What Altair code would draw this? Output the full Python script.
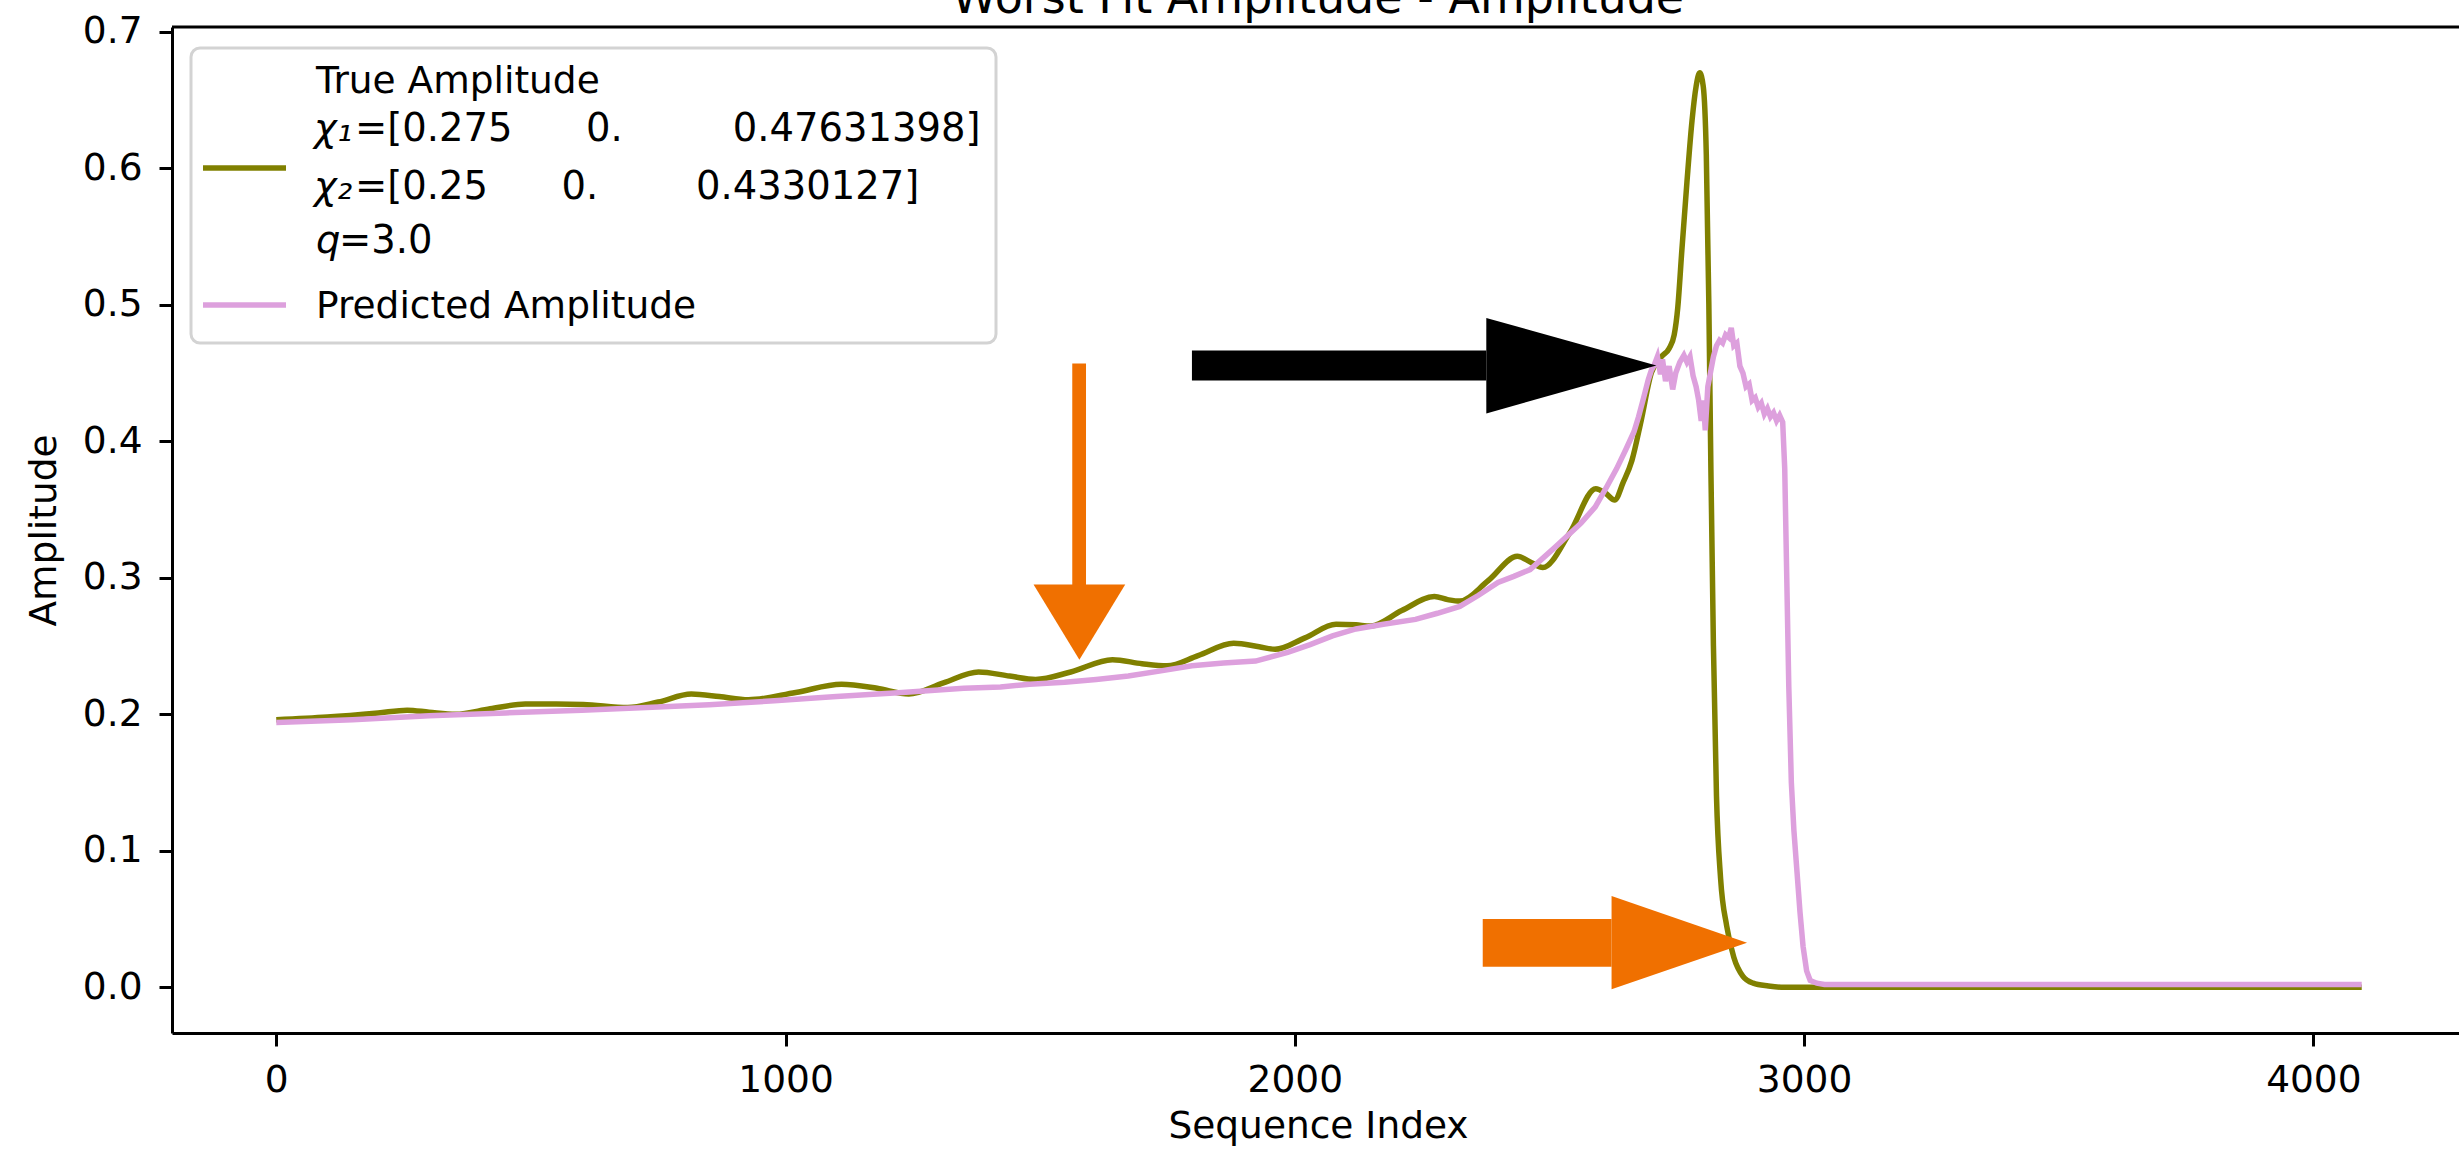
import altair as alt
import pandas as pd

# ---------------- data ----------------
true_idx = [0, 100, 200, 257, 300, 352, 420, 489, 550, 603, 690, 750, 815, 870, 927,
            1020, 1110, 1180, 1242, 1310, 1379, 1440, 1491, 1560, 1642, 1700, 1749,
            1810, 1880, 1930, 1961, 2020, 2081, 2120, 2149, 2210, 2274, 2300, 2324,
            2380, 2437, 2465, 2487, 2540, 2591, 2610, 2628, 2645, 2662, 2680, 2700,
            2720, 2735, 2745, 2752, 2760, 2770, 2780, 2788, 2795, 2802, 2808, 2813,
            2817, 2822, 2828, 2836, 2848, 2862, 2880, 2900, 2930, 2960, 4095]
true_amp = [0.196, 0.198, 0.201, 0.203, 0.2015, 0.200, 0.204, 0.2075, 0.2075, 0.2072,
            0.205, 0.209, 0.2148, 0.213, 0.2106, 0.216, 0.222, 0.219, 0.2148, 0.223,
            0.231, 0.228, 0.2255, 0.231, 0.240, 0.237, 0.2355, 0.243, 0.252, 0.2495,
            0.2476, 0.256, 0.2659, 0.2655, 0.2647, 0.276, 0.2862, 0.284, 0.2829, 0.298,
            0.3158, 0.311, 0.3075, 0.333, 0.3652, 0.362, 0.357, 0.370, 0.386, 0.415,
            0.450, 0.462, 0.468, 0.478, 0.498, 0.540, 0.590, 0.635, 0.660, 0.670,
            0.660, 0.610, 0.500, 0.380, 0.250, 0.140, 0.080, 0.045, 0.022, 0.008,
            0.003, 0.001, 0.0, 0.0]

pred_idx = [0, 150, 300, 450, 600, 727, 850, 978, 1100, 1229, 1350, 1422, 1479, 1548,
            1610, 1673, 1740, 1798, 1860, 1923, 1986, 2030, 2074, 2120, 2174, 2237,
            2280, 2324, 2360, 2399, 2430, 2462, 2513, 2562, 2590, 2613, 2632, 2650,
            2666, 2675, 2685, 2694, 2700, 2706, 2712, 2718, 2722, 2728, 2735, 2742,
            2748, 2756, 2764, 2770, 2776, 2782, 2788, 2793, 2798, 2802, 2806, 2811,
            2816, 2822, 2828, 2834, 2840, 2846, 2852, 2857, 2862, 2868, 2874, 2880,
            2886, 2892, 2898, 2904, 2910, 2916, 2922, 2928, 2934, 2940, 2946, 2952,
            2958, 2962, 2966, 2970, 2975, 2980, 2986, 2992, 2998, 3005, 3012, 3025,
            3040, 4095]
pred_amp = [0.194, 0.196, 0.199, 0.201, 0.203, 0.205, 0.207, 0.2099, 0.213, 0.216,
            0.219, 0.220, 0.222, 0.2235, 0.2255, 0.228, 0.232, 0.2355, 0.2375, 0.239,
            0.2454, 0.251, 0.2574, 0.2625, 0.266, 0.2695, 0.274, 0.279, 0.287, 0.2965,
            0.301, 0.306, 0.323, 0.340, 0.352, 0.367, 0.380, 0.394,
            0.407, 0.418, 0.432, 0.445, 0.452, 0.456, 0.462, 0.449, 0.460, 0.444,
            0.455, 0.438, 0.450, 0.458, 0.463, 0.458, 0.462, 0.448, 0.440, 0.430,
            0.415, 0.430, 0.408, 0.440, 0.450, 0.462, 0.470, 0.474, 0.472, 0.478,
            0.476, 0.483, 0.470, 0.472, 0.455, 0.450, 0.440, 0.442, 0.430, 0.432,
            0.425, 0.428, 0.420, 0.424, 0.418, 0.421, 0.415, 0.419, 0.414, 0.380,
            0.300, 0.220, 0.150, 0.115, 0.085, 0.055, 0.030, 0.012, 0.005, 0.003,
            0.002, 0.002]

x_ticks = [0, 1000, 2000, 3000, 4000]
y_ticks = [0.0, 0.1, 0.2, 0.3, 0.4, 0.5, 0.6, 0.7]

# annotation arrows (data coordinates)
shaft_x0 = [1563, 1798, 2369]
shaft_x1 = [1590, 2376, 2622]
shaft_y0 = [0.293, 0.4446, 0.0150]
shaft_y1 = [0.457, 0.4665, 0.0500]
shaft_col = ["#f07000", "#000000", "#f07000"]

# right-pointing heads: base x, base y-low, base y-high, tip x, tip y
rhead_base_x = [2376, 2622]
rhead_lo = [0.4204, -0.0015]
rhead_hi = [0.4903, 0.0668]
rhead_tip_x = [2710, 2888]
rhead_tip_y = [0.4556, 0.0327]
rhead_col = ["#000000", "#f07000"]

# down-pointing head
dhead_base_y = 0.295
dhead_left = 1487
dhead_right = 1667
dhead_tip_x = 1577
dhead_tip_y = 0.240

legend_true_lines = ["True Amplitude"]
chi1_sym = "\u03c7\u2081"
chi2_sym = "\u03c7\u2082"
chi1_rest = "=[0.275      0.         0.47631398]"
chi2_rest = "=[0.25      0.        0.4330127]"
q_rest = "=3.0"
legend_pred = "Predicted Amplitude"
title_text = "Worst Fit Amplitude - Amplitude"

# ---------------- styling ----------------
FONT = "DejaVu Sans"
W, H = 2287, 1006
OLIVE = "#808000"
PLUM = "#dda0dd"
FS = 37.5

xs = alt.Scale(domain=[-204.75, 4286], nice=False, zero=False)
ys = alt.Scale(domain=[-0.0335, 0.7035], nice=False, zero=False)

common_axis = dict(labelFont=FONT, labelFontSize=FS, labelColor="black",
                   tickColor="black", tickSize=13, tickWidth=3,
                   domainColor="black", domainWidth=3, grid=False,
                   titleFont=FONT, titleFontSize=FS, titleFontWeight="normal",
                   titleColor="black", labelOverlap=False, labelFlush=False)

x_axis = alt.Axis(values=x_ticks, format="d", title="Sequence Index",
                  labelBaseline="alphabetic", labelPadding=45,
                  titleX=1146, titleY=104, titleAlign="center",
                  titleBaseline="alphabetic", **common_axis)
y_axis = alt.Axis(values=y_ticks, format=".1f", title="Amplitude",
                  labelPadding=17, titleX=-117, titleY=H / 2, titleAngle=270,
                  titleAlign="center", titleBaseline="alphabetic", **common_axis)


def X(field):
    return alt.X(field, scale=xs, axis=x_axis)


def Y(field):
    return alt.Y(field, scale=ys, axis=y_axis)


true_df = pd.DataFrame({"idx": true_idx, "amp": true_amp})
pred_df = pd.DataFrame({"idx": pred_idx, "amp": pred_amp})

true_line = alt.Chart(true_df).mark_line(
    color=OLIVE, strokeWidth=5.5, interpolate="monotone"
).encode(x=X("idx:Q"), y=Y("amp:Q"))

pred_line = alt.Chart(pred_df).mark_line(
    color=PLUM, strokeWidth=5.5, interpolate="linear"
).encode(x=X("idx:Q"), y=Y("amp:Q"))

shaft_df = pd.DataFrame({"x0": shaft_x0, "x1": shaft_x1, "y0": shaft_y0,
                         "y1": shaft_y1, "col": shaft_col})
shafts = alt.Chart(shaft_df).mark_rect().encode(
    x=X("x0:Q"), x2="x1:Q", y=Y("y0:Q"), y2="y1:Q",
    color=alt.Color("col:N", scale=None))

rrows = []
for i in range(len(rhead_base_x)):
    rrows.append({"g": i, "x": rhead_base_x[i], "y": rhead_lo[i], "y2": rhead_hi[i], "col": rhead_col[i]})
    rrows.append({"g": i, "x": rhead_tip_x[i], "y": rhead_tip_y[i], "y2": rhead_tip_y[i], "col": rhead_col[i]})
rhead_df = pd.DataFrame(rrows)
rheads = alt.Chart(rhead_df).mark_area(orient="vertical", interpolate="linear").encode(
    x=X("x:Q"), y=Y("y:Q"), y2="y2:Q",
    color=alt.Color("col:N", scale=None), detail="g:N")

dhead_df = pd.DataFrame({"y": [dhead_base_y, dhead_tip_y],
                         "x": [dhead_left, dhead_tip_x],
                         "x2": [dhead_right, dhead_tip_x]})
dhead = alt.Chart(dhead_df).mark_area(orient="horizontal", color="#f07000",
                                      interpolate="linear").encode(
    y=Y("y:Q"), x=X("x:Q"), x2="x2:Q")

one = pd.DataFrame({"t": [title_text]})

top_spine = alt.Chart(one).mark_rule(color="black", strokeWidth=3).encode(
    x=alt.value(0), x2=alt.value(W), y=alt.value(0))

title = alt.Chart(one).mark_text(font=FONT, fontSize=46, align="center",
                                 baseline="alphabetic", color="black").encode(
    x=alt.value(1146), y=alt.value(-14), text="t:N")

# legend (matplotlib style)
LX, LY = 172, 27
legend_box = alt.Chart(one).mark_rect(
    fill="white", fillOpacity=0.8, stroke="#d3d3d3", strokeWidth=3, cornerRadius=9
).encode(x=alt.value(191 - LX), x2=alt.value(996 - LX),
         y=alt.value(48 - LY), y2=alt.value(343 - LY))

h_true = alt.Chart(one).mark_rule(color=OLIVE, strokeWidth=5.5).encode(
    x=alt.value(203 - LX), x2=alt.value(286 - LX), y=alt.value(168 - LY))
h_pred = alt.Chart(one).mark_rule(color=PLUM, strokeWidth=5.5).encode(
    x=alt.value(203 - LX), x2=alt.value(286 - LX), y=alt.value(305 - LY))


def txt(s, x, y, size=FS, style="normal"):
    return alt.Chart(pd.DataFrame({"t": [s]})).mark_text(
        font=FONT, fontSize=size, fontStyle=style, align="left",
        baseline="alphabetic", color="black").encode(
        x=alt.value(x), y=alt.value(y), text="t:N")


nb = lambda s: s.replace(" ", "\u00a0")
LEG = 38.5
legend_texts = [
    txt(legend_true_lines[0], 316 - LX, 93 - LY),
    txt(chi1_sym, 314 - LX, 141 - LY, LEG, "italic"),
    txt(nb(chi1_rest), 355 - LX, 141 - LY, LEG),
    txt(chi2_sym, 314 - LX, 199 - LY, LEG, "italic"),
    txt(nb(chi2_rest), 355 - LX, 199 - LY, LEG),
    txt("q", 316 - LX, 253 - LY, LEG, "italic"),
    txt(q_rest, 339 - LX, 253 - LY, LEG),
    txt(legend_pred, 316 - LX, 318 - LY),
]

chart = alt.layer(
    true_line, pred_line, shafts, rheads, dhead, top_spine, title,
    legend_box, h_true, h_pred, *legend_texts
).properties(
    width=W, height=H,
    autosize=alt.AutoSizeParams(type="none"),
    padding={"left": LX, "top": LY, "right": 0, "bottom": 1152 - LY - H},
    background="white",
).configure_view(strokeWidth=0)

chart.save("out.html", embed_options={"renderer": "svg", "actions": False})
